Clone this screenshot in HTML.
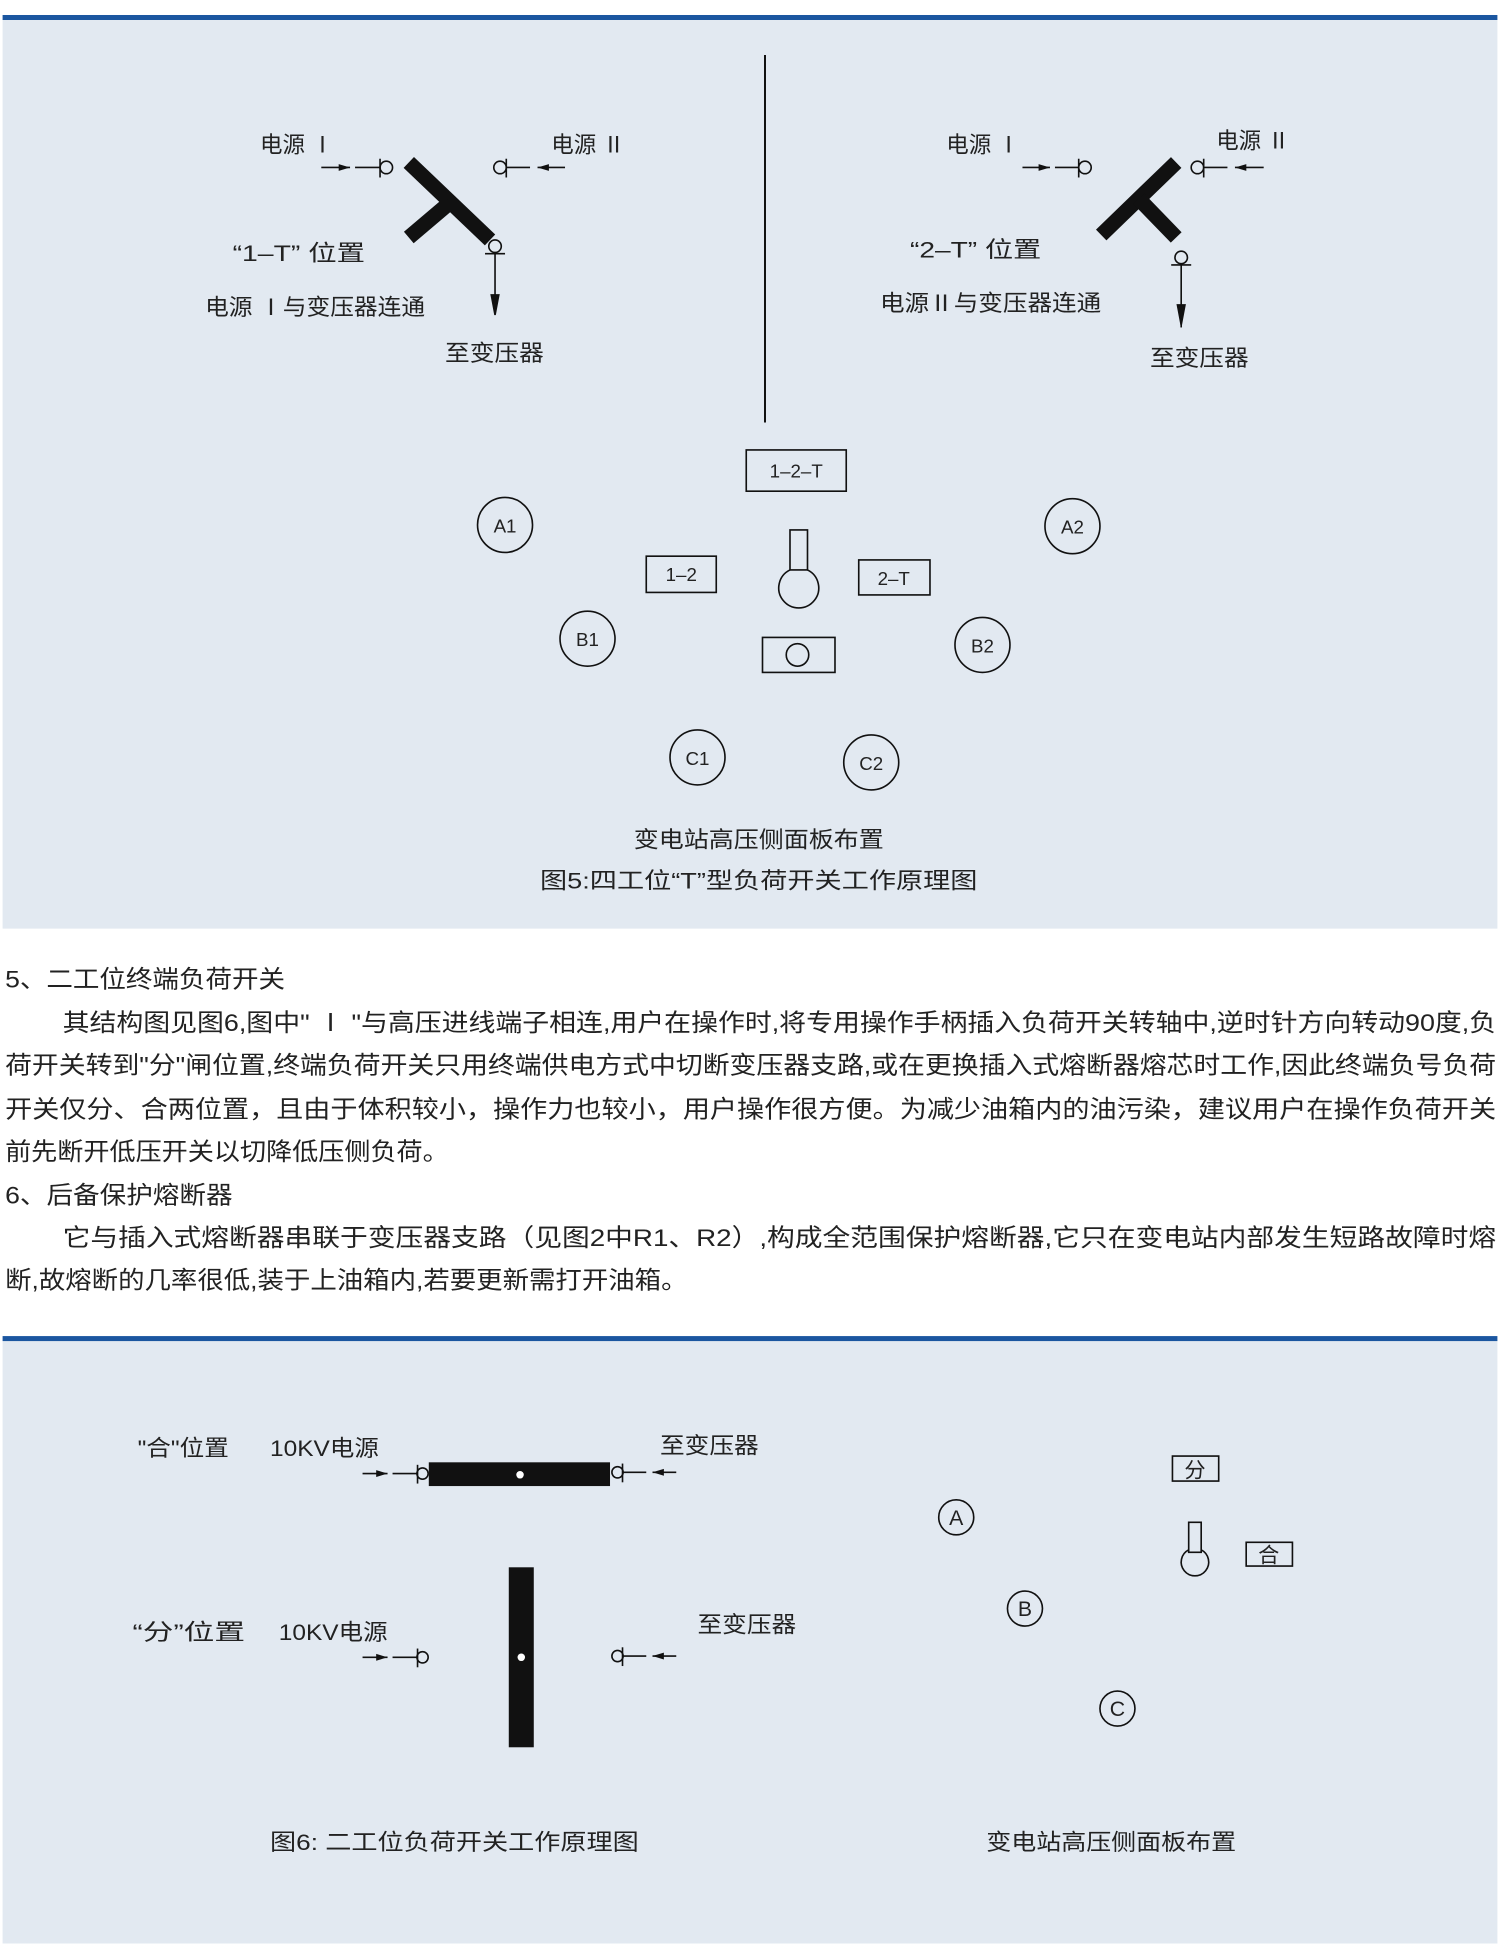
<!DOCTYPE html>
<html><head><meta charset="utf-8"><style>
html,body{margin:0;padding:0;background:#fff;}
svg{display:block;}
text{font-family:"Liberation Sans","Noto Sans CJK SC",sans-serif;fill:#222;}
</style></head><body>
<svg width="1500" height="1956" viewBox="0 0 1200 1565" xmlns="http://www.w3.org/2000/svg">
<defs>
<marker id="ar" viewBox="0 0 10 10" refX="10" refY="5" markerWidth="7" markerHeight="7" orient="auto"><path d="M0,2 L10,5 L0,8 z" fill="#111"/></marker>
</defs>
<rect x="0" y="0" width="1200" height="1565" fill="#fff"/>
<rect x="2" y="15" width="1196" height="728" fill="#e2e9f1"/>
<rect x="2" y="12" width="1196" height="4" fill="#1b56a0"/>
<line x1="612" y1="44" x2="612" y2="338" stroke="#111" stroke-width="1.6"/>

<g stroke="#111" stroke-width="1.3" fill="none">
<line x1="257" y1="134" x2="280" y2="134" marker-end="url(#ar)"/>
<line x1="284" y1="134" x2="304" y2="134"/>
<line x1="304" y1="127" x2="304" y2="142"/>
<circle cx="309" cy="134" r="5"/>
<circle cx="400" cy="134" r="5"/>
<line x1="405" y1="127" x2="405" y2="142"/>
<line x1="405" y1="134" x2="424" y2="134"/>
<line x1="452" y1="134" x2="430" y2="134" marker-end="url(#ar)"/>
<circle cx="396" cy="197" r="5"/>
<line x1="388" y1="203" x2="404" y2="203"/>
<line x1="396" y1="203" x2="396" y2="250"/>
<path d="M393,236 L396,252 L399,236 z" fill="#111"/>
<line x1="818" y1="134" x2="840" y2="134" marker-end="url(#ar)"/>
<line x1="844" y1="134" x2="863" y2="134"/>
<line x1="863" y1="127" x2="863" y2="142"/>
<circle cx="868" cy="134" r="5"/>
<circle cx="958" cy="134" r="5"/>
<line x1="963" y1="127" x2="963" y2="142"/>
<line x1="963" y1="134" x2="982" y2="134"/>
<line x1="1011" y1="134" x2="988" y2="134" marker-end="url(#ar)"/>
<circle cx="945" cy="206" r="5"/>
<line x1="937" y1="212" x2="953" y2="212"/>
<line x1="945" y1="212" x2="945" y2="262"/>
<path d="M942,244 L945,260 L948,244 z" fill="#111"/>
</g>
<g stroke="#111" stroke-width="12" stroke-linecap="butt">
<line x1="327" y1="130" x2="392" y2="192"/>
<line x1="360" y1="162" x2="327" y2="190"/>
<line x1="941" y1="130" x2="881" y2="188"/>
<line x1="911" y1="159" x2="941" y2="190"/>
</g>
<g font-size="18">
<text x="208" y="122">电源 Ⅰ</text>
<text x="441" y="122">电源 Ⅱ</text>
<text x="186" y="209" textLength="106" lengthAdjust="spacingAndGlyphs">“1–T” 位置</text>
<text x="164" y="252" textLength="176" lengthAdjust="spacingAndGlyphs">电源 Ⅰ与变压器连通</text>
<text x="356" y="289" textLength="79" lengthAdjust="spacingAndGlyphs">至变压器</text>
<text x="757" y="122">电源 Ⅰ</text>
<text x="973" y="119">电源 Ⅱ</text>
<text x="728" y="206" textLength="105" lengthAdjust="spacingAndGlyphs">“2–T” 位置</text>
<text x="704" y="249" textLength="177" lengthAdjust="spacingAndGlyphs">电源Ⅱ与变压器连通</text>
<text x="920" y="293" textLength="79" lengthAdjust="spacingAndGlyphs">至变压器</text>
</g>
<g stroke="#111" stroke-width="1.3" fill="none">
<rect x="597" y="360" width="80" height="33"/>
<rect x="517" y="445" width="56" height="29"/>
<rect x="687" y="448" width="57" height="28"/>
<rect x="610" y="510" width="58" height="28"/>
<circle cx="638" cy="524" r="9"/>
<rect x="632" y="424" width="14" height="32"/>
<path d="M632,456 A16,16 0 1 0 646,456"/>
<circle cx="404" cy="420" r="22"/>
<circle cx="858" cy="421" r="22"/>
<circle cx="470" cy="511" r="22"/>
<circle cx="786" cy="516" r="22"/>
<circle cx="558" cy="606" r="22"/>
<circle cx="697" cy="610" r="22"/>
</g>
<g font-size="15" text-anchor="middle">
<text x="637" y="382">1–2–T</text>
<text x="545" y="465">1–2</text>
<text x="715" y="468">2–T</text>
<text x="404" y="426">A1</text>
<text x="858" y="427">A2</text>
<text x="470" y="517">B1</text>
<text x="786" y="522">B2</text>
<text x="558" y="612">C1</text>
<text x="697" y="616">C2</text>
</g>
<g font-size="18">
<text x="507" y="678" textLength="200" lengthAdjust="spacingAndGlyphs">变电站高压侧面板布置</text>
<text x="432" y="711" textLength="350" lengthAdjust="spacingAndGlyphs">图5:四工位“T”型负荷开关工作原理图</text>
</g>

<g font-size="19.5">
<text x="4" y="790" textLength="224" lengthAdjust="spacingAndGlyphs">5、二工位终端负荷开关</text>
<text x="50" y="825" textLength="1147" lengthAdjust="spacingAndGlyphs">其结构图见图6,图中" Ⅰ "与高压进线端子相连,用户在操作时,将专用操作手柄插入负荷开关转轴中,逆时针方向转动90度,负</text>
<text x="4" y="859" textLength="1193" lengthAdjust="spacingAndGlyphs">荷开关转到"分"闸位置,终端负荷开关只用终端供电方式中切断变压器支路,或在更换插入式熔断器熔芯时工作,因此终端负号负荷</text>
<text x="4" y="894" textLength="1193" lengthAdjust="spacingAndGlyphs">开关仅分、合两位置，且由于体积较小，操作力也较小，用户操作很方便。为减少油箱内的油污染，建议用户在操作负荷开关</text>
<text x="4" y="928" textLength="355" lengthAdjust="spacingAndGlyphs">前先断开低压开关以切降低压侧负荷。</text>
<text x="4" y="963" textLength="182" lengthAdjust="spacingAndGlyphs">6、后备保护熔断器</text>
<text x="50" y="997" textLength="1147" lengthAdjust="spacingAndGlyphs">它与插入式熔断器串联于变压器支路（见图2中R1、R2）,构成全范围保护熔断器,它只在变电站内部发生短路故障时熔</text>
<text x="4" y="1031" textLength="546" lengthAdjust="spacingAndGlyphs">断,故熔断的几率很低,装于上油箱内,若要更新需打开油箱。</text>
</g>

<rect x="2" y="1072" width="1196" height="483" fill="#e2e9f1"/>
<rect x="2" y="1069" width="1196" height="4" fill="#1b56a0"/>
<rect x="343" y="1170" width="145" height="19" fill="#111"/>
<circle cx="416" cy="1180" r="3" fill="#fff"/>
<rect x="407" y="1254" width="20" height="144" fill="#111"/>
<circle cx="417" cy="1326" r="3" fill="#fff"/>
<g stroke="#111" stroke-width="1.3" fill="none">
<line x1="290" y1="1179" x2="310" y2="1179" marker-end="url(#ar)"/>
<line x1="314" y1="1179" x2="334" y2="1179"/>
<line x1="334" y1="1172" x2="334" y2="1187"/>
<circle cx="338" cy="1179" r="4.5"/>
<circle cx="494" cy="1178" r="4.5"/>
<line x1="498" y1="1171" x2="498" y2="1186"/>
<line x1="498" y1="1178" x2="517" y2="1178"/>
<line x1="541" y1="1178" x2="522" y2="1178" marker-end="url(#ar)"/>
<line x1="290" y1="1326" x2="310" y2="1326" marker-end="url(#ar)"/>
<line x1="314" y1="1326" x2="334" y2="1326"/>
<line x1="334" y1="1319" x2="334" y2="1334"/>
<circle cx="338" cy="1326" r="4.5"/>
<circle cx="494" cy="1325" r="4.5"/>
<line x1="498" y1="1318" x2="498" y2="1333"/>
<line x1="498" y1="1325" x2="517" y2="1325"/>
<line x1="541" y1="1325" x2="522" y2="1325" marker-end="url(#ar)"/>
<rect x="938" y="1165" width="37" height="20"/>
<rect x="997" y="1234" width="37" height="19"/>
<rect x="951" y="1218" width="10" height="24"/>
<path d="M951,1240 A11,11 0 1 0 961,1240"/>
<circle cx="765" cy="1214" r="14"/>
<circle cx="820" cy="1287" r="14"/>
<circle cx="894" cy="1367" r="14"/>
</g>
<g font-size="18">
<text x="110" y="1165" textLength="73" lengthAdjust="spacingAndGlyphs">"合"位置</text>
<text x="216" y="1165" textLength="87" lengthAdjust="spacingAndGlyphs">10KV电源</text>
<text x="528" y="1163" textLength="79" lengthAdjust="spacingAndGlyphs">至变压器</text>
<text x="106" y="1312" textLength="90" lengthAdjust="spacingAndGlyphs">“分”位置</text>
<text x="223" y="1312" textLength="87" lengthAdjust="spacingAndGlyphs">10KV电源</text>
<text x="558" y="1306" textLength="79" lengthAdjust="spacingAndGlyphs">至变压器</text>
<text x="216" y="1480" textLength="295" lengthAdjust="spacingAndGlyphs">图6:  二工位负荷开关工作原理图</text>
<text x="789" y="1480" textLength="200" lengthAdjust="spacingAndGlyphs">变电站高压侧面板布置</text>
</g>
<g font-size="17" text-anchor="middle">
<text x="956" y="1182">分</text>
<text x="1015" y="1250">合</text>
<text x="765" y="1220">A</text>
<text x="820" y="1293">B</text>
<text x="894" y="1373">C</text>
</g>
</svg>
</body></html>
